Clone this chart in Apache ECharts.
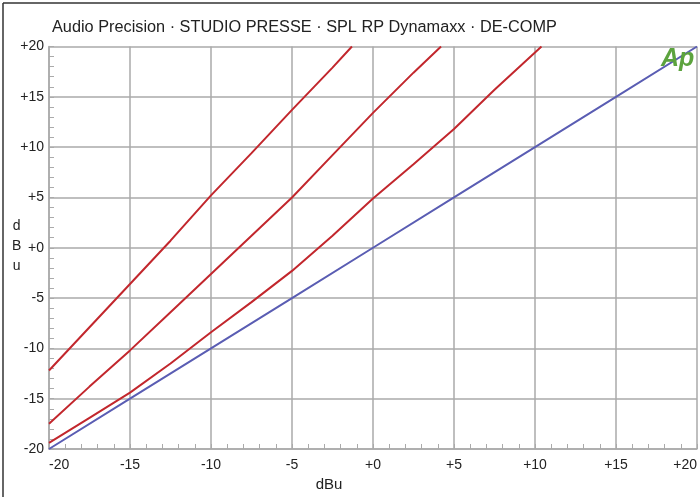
<!DOCTYPE html>
<html>
<head>
<meta charset="utf-8">
<script src="https://cdn.jsdelivr.net/npm/echarts@6/dist/echarts.min.js"></script>
<style>
html,body{margin:0;padding:0;background:#fff;}
#c{width:700px;height:497px;}
</style>
</head>
<body>
<div id="c"></div>
<script>
// ---- data ----
const titleText = "Audio Precision · STUDIO PRESSE · SPL RP Dynamaxx · DE-COMP";
const xTicks = [-20, -15, -10, -5, 0, 5, 10, 15, 20];
const yTicks = [-20, -15, -10, -5, 0, 5, 10, 15, 20];
// input dBu -> output dBu
const red1X = [-20, -17.5, -15, -12.5, -10, -7.5, -5, -2.5, -1.3];
const red1Y = [-12.2, -7.9, -3.6, 0.7, 5.2, 9.4, 13.7, 17.9, 20];
const red2X = [-20, -17.5, -15, -12.5, -10, -7.5, -5, -2.5, 0, 2.5, 4.2];
const red2Y = [-17.5, -13.8, -10.2, -6.4, -2.6, 1.2, 5.0, 9.2, 13.4, 17.4, 20];
const red3X = [-20, -17.5, -15, -12.5, -10, -7.5, -5, -2.5, 0, 2.5, 5, 7.5, 10, 10.4];
const red3Y = [-19.4, -16.9, -14.4, -11.5, -8.4, -5.4, -2.3, 1.2, 4.9, 8.3, 11.8, 15.7, 19.4, 20];
const blueX = [-20, -15, -10, -5, 0, 5, 10, 15, 20];
const blueY = [-20, -15, -10, -5, 0, 5, 10, 15, 20];

const pairs = (xs, ys) => xs.map((x, i) => [x, ys[i]]);
const fmt = v => (v >= 0 ? '+' + v : String(v));

const chart = echarts.init(document.getElementById('c'), null, {renderer: 'canvas'});
const gridColor = '#aaaaaa';
const font = '"Liberation Sans", Arial, sans-serif';

const lineSeries = (name, xs, ys, color) => ({
  name, type: 'line', data: pairs(xs, ys), showSymbol: false, symbol: 'none',
  lineStyle: {color, width: 2}, itemStyle: {color}, animation: false, z: 3
});

chart.setOption({
  backgroundColor: '#ffffff',
  animation: false,
  textStyle: {fontFamily: font},
  grid: {left: 49, right: 1, top: 46.5, bottom: 48, containLabel: false},
  xAxis: {
    type: 'value', min: xTicks[0], max: xTicks[xTicks.length - 1], interval: 5,
    name: 'dBu', nameLocation: 'middle', nameGap: 20,
    nameTextStyle: {fontFamily: font, fontSize: 15, color: '#222', padding: [0, 88, 0, 0]},
    axisLine: {show: true, onZero: false, lineStyle: {color: gridColor, width: 1.5}},
    axisTick: {show: true, inside: true, length: 5, lineStyle: {color: gridColor}},
    minorTick: {show: true, splitNumber: 5, length: 5, lineStyle: {color: gridColor}},
    splitLine: {show: true, lineStyle: {color: gridColor, width: 1.5}},
    axisLabel: {formatter: fmt, fontFamily: font, fontSize: 14, color: '#222', margin: 9,
      alignMinLabel: 'left', alignMaxLabel: 'right'}
  },
  yAxis: {
    type: 'value', min: yTicks[0], max: yTicks[yTicks.length - 1], interval: 5,
    axisLine: {show: true, onZero: false, lineStyle: {color: gridColor, width: 1.5}},
    axisTick: {show: true, inside: true, length: 5, lineStyle: {color: gridColor}},
    minorTick: {show: true, splitNumber: 5, length: 5, lineStyle: {color: gridColor}},
    splitLine: {show: true, lineStyle: {color: gridColor, width: 1.5}},
    axisLabel: {formatter: fmt, fontFamily: font, fontSize: 14, color: '#222', margin: 5}
  },
  series: [
    lineSeries('red1', red1X, red1Y, '#c2272d'),
    lineSeries('red2', red2X, red2Y, '#c2272d'),
    lineSeries('red3', red3X, red3Y, '#c2272d'),
    lineSeries('blue', blueX, blueY, '#5a5db3')
  ],
  graphic: [
    {type: 'line', shape: {x1: 3, y1: 3, x2: 700, y2: 3}, style: {stroke: '#333', lineWidth: 1.5}},
    {type: 'line', shape: {x1: 3, y1: 3, x2: 3, y2: 497}, style: {stroke: '#333', lineWidth: 1.5}},
    {type: 'text', left: 52, top: 20, style: {text: titleText, font: '16.3px ' + font, fill: '#222'}},
    {type: 'text', left: 12, top: 216, style: {text: 'd\nB\nu', font: '14px ' + font, fill: '#222', lineHeight: 20, textAlign: 'center'}},
    {type: 'text', left: 661, top: 47, z: 10, style: {text: 'Ap', font: 'italic bold 25px ' + font, fill: '#5ca33e'}}
  ]
});
</script>
</body>
</html>
